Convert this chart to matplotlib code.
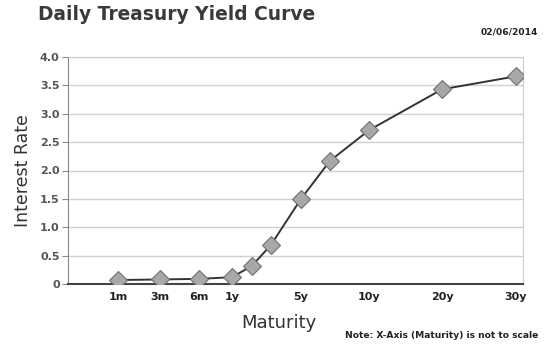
import matplotlib.pyplot as plt

# maturities and yields (02/06/2014)
maturities = ["1m", "3m", "6m", "1y", "2y", "3y", "5y", "7y", "10y", "20y", "30y"]
x_pos = [118, 160, 199, 232, 252, 271, 301, 330, 369, 442, 516]
yields = [0.07, 0.08, 0.09, 0.12, 0.32, 0.69, 1.50, 2.17, 2.71, 3.43, 3.66]

tick_labels = ["1m", "3m", "6m", "1y", "5y", "10y", "20y", "30y"]
tick_pos = [x_pos[maturities.index(t)] for t in tick_labels]
y_ticks = [0, 0.5, 1.0, 1.5, 2.0, 2.5, 3.0, 3.5, 4.0]
y_tick_labels = ["0", "0.5", "1.0", "1.5", "2.0", "2.5", "3.0", "3.5", "4.0"]

fig = plt.figure(figsize=(5.5, 3.45), dpi=100)
ax = fig.add_axes([68 / 550, 1 - 284 / 345, (523 - 68) / 550, (284 - 57) / 345])

ax.plot(x_pos, yields, color="#333333", lw=1.4, zorder=3,
        marker="D", markersize=9.5, markerfacecolor="#a8a8a8",
        markeredgecolor="#707070", markeredgewidth=0.8)

ax.set_xlim(68, 523)
ax.set_ylim(0, 4.0)
ax.set_yticks(y_ticks)
ax.set_yticklabels(y_tick_labels, fontsize=8, fontweight="bold", color="#555555")
ax.set_xticks(tick_pos)
ax.set_xticklabels(tick_labels, fontsize=8, fontweight="bold", color="#222222")
ax.tick_params(axis="x", length=0, pad=6)
ax.tick_params(axis="y", length=4, color="#888888", pad=2)
ax.grid(axis="y", color="#d0d0d0", lw=1)
ax.set_axisbelow(True)

for side in ["top", "right"]:
    ax.spines[side].set_color("#cccccc")
ax.spines["left"].set_color("#888888")
ax.spines["bottom"].set_color("#444444")
ax.spines["bottom"].set_linewidth(1.5)

ax.set_ylabel("Interest Rate", fontsize=12.5, color="#333333", labelpad=6)
ax.set_xlabel("Maturity", fontsize=13, color="#333333", labelpad=4)
ax.xaxis.set_label_coords((279 - 68) / 455, -0.13)

fig.text(38 / 550, 1 - 14 / 345, "Daily Treasury Yield Curve", fontsize=13.4,
         fontweight="bold", color="#3a3a3a", va="center", ha="left")
fig.text(538 / 550, 1 - 32 / 345, "02/06/2014", fontsize=6.6, fontweight="bold",
         color="#222222", ha="right", va="center")
fig.text(538 / 550, 1 - 335 / 345, "Note: X-Axis (Maturity) is not to scale",
         fontsize=6.6, fontweight="bold", color="#222222", ha="right", va="center")

fig.savefig("out.png", dpi=100)
